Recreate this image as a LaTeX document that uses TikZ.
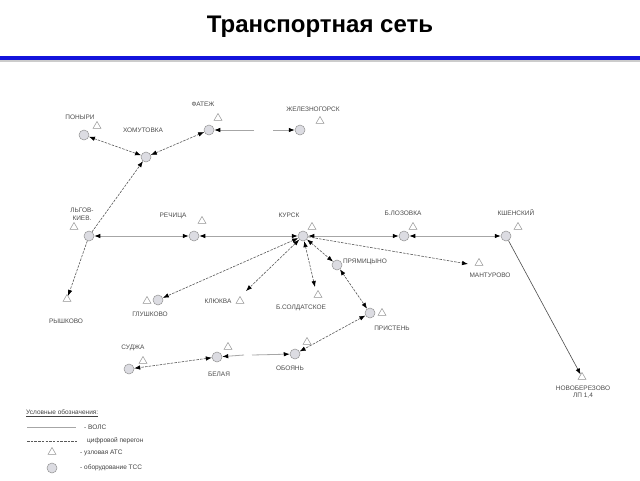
\documentclass[tikz,border=0pt]{standalone}
\usepackage{fontspec}
\setmainfont{Liberation Sans}
\usetikzlibrary{arrows.meta,shapes.geometric}
\definecolor{rule}{RGB}{20,20,220}
\definecolor{stfill}{RGB}{220,220,226}
\begin{document}
\begin{tikzpicture}[x=1pt,y=-1pt,
 stn/.style={circle,draw=gray!85,fill=stfill,line width=0.5pt,minimum size=10pt,inner sep=0pt},
 tri/.style={regular polygon,regular polygon sides=3,draw=gray!85,line width=0.5pt,minimum size=9pt,inner sep=0pt},
 lbl/.style={font=\fontsize{6.5}{7.5}\selectfont,text=black!70,inner sep=0pt,align=center},
 leg/.style={font=\fontsize{6.5}{7.5}\selectfont,text=black!75,inner sep=0pt,anchor=west},
 sol/.style={draw=gray!70,line width=0.8pt},
 dsh/.style={draw=black!65,line width=0.6pt,dash pattern=on 2.5pt off 1.2pt},
 dark/.style={draw=black!70,line width=0.6pt},
 tip/.style={-{Latex[length=6pt,width=4.5pt,color=black]}},
 tips/.style={{Latex[length=6pt,width=4.5pt,color=black]}-{Latex[length=6pt,width=4.5pt,color=black]}}
]
\useasboundingbox (0,0) rectangle (640,480);
\fill[white] (0,0) rectangle (640,480);
% title and rule
\node[font=\fontsize{24}{28}\selectfont\bfseries,inner sep=0pt] (title) at (320,27) {Транспортная сеть};
\draw[gray!40,line width=1.5pt] (0,61) -- (640,61);
\draw[rule,line width=3.5pt] (0,58) -- (640,58);

% circles (stations)
\node[stn] (pon) at (84,135) {};
\node[stn] (hom) at (146,157) {};
\node[stn] (fat) at (209,130) {};
\node[stn] (zhel) at (300,130) {};
\node[stn] (lgov) at (89,236) {};
\node[stn] (rech) at (194,236) {};
\node[stn] (kursk) at (303,236) {};
\node[stn] (loz) at (404,236) {};
\node[stn] (kshen) at (506,236) {};
\node[stn] (glush) at (158,300) {};
\node[stn] (pryam) at (337,265) {};
\node[stn] (prist) at (370,313) {};
\node[stn] (oboyan) at (295,354) {};
\node[stn] (belaya) at (217,357) {};
\node[stn] (sudzha) at (129,369) {};

% triangles
\node[tri] (tpon) at (97,126) {};
\node[tri] (tfat) at (218,118) {};
\node[tri] (tzhel) at (320,121) {};
\node[tri] (tlgov) at (74,227) {};
\node[tri] (trech) at (202,221) {};
\node[tri] (tkursk) at (312,227) {};
\node[tri] (tloz) at (413,227) {};
\node[tri] (tkshen) at (518,227) {};
\node[tri] (trysh) at (67,299) {};
\node[tri] (tglush) at (147,301) {};
\node[tri] (tkluk) at (240,301) {};
\node[tri] (tsold) at (318,295) {};
\node[tri] (tprist) at (382,313) {};
\node[tri] (tmant) at (479,263) {};
\node[tri] (toboyan) at (307,342) {};
\node[tri] (tbelaya) at (228,347) {};
\node[tri] (tsudzha) at (143,361) {};
\node[tri] (tnovob) at (582,377) {};

% labels
\node[lbl] (lpon) at (80,117) {ПОНЫРИ};
\node[lbl] (lhom) at (143,130) {ХОМУТОВКА};
\node[lbl] (lfat) at (203,104) {ФАТЕЖ};
\node[lbl] (lzhel) at (313,109) {ЖЕЛЕЗНОГОРСК};
\node[lbl] (llgov) at (82,214) {ЛЬГОВ-\\КИЕВ.};
\node[lbl] (lrech) at (173,216) {РЕЧИЦА};
\node[lbl] (lkursk) at (289,215) {КУРСК};
\node[lbl] (lloz) at (403,213) {Б.ЛОЗОВКА};
\node[lbl] (lkshen) at (516,213) {КШЕНСКИЙ};
\node[lbl] (lrysh) at (66,321) {РЫШКОВО};
\node[lbl] (lglush) at (150,314) {ГЛУШКОВО};
\node[lbl] (lkluk) at (218,301) {КЛЮКВА};
\node[lbl] (lsold) at (301,308) {Б.СОЛДАТСКОЕ};
\node[lbl] (lpryam) at (365,262) {ПРЯМИЦЫНО};
\node[lbl] (lprist) at (392,328) {ПРИСТЕНЬ};
\node[lbl] (lmant) at (490,275) {МАНТУРОВО};
\node[lbl] (loboyan) at (290,368) {ОБОЯНЬ};
\node[lbl] (lbelaya) at (219,374) {БЕЛАЯ};
\node[lbl] (lsudzha) at (133,348) {СУДЖА};
\node[lbl] (lnovob) at (583,392) {НОВОБЕРЕЗОВО\\ЛП 1,4};

% free ends
\coordinate (fA) at (254,130);
\coordinate (fB) at (273,130);
\coordinate (bA) at (244,355);
\coordinate (bB) at (252,355);
\coordinate (ekluk) at (246,291);
\coordinate (esold) at (315,287);
\coordinate (emant) at (468,264);

% connectors
\draw[dsh,tips] (pon) -- (hom);
\draw[dsh,tips] (hom) -- (fat);
\draw[sol,tip] (fA) -- (fat);
\draw[sol,tip] (fB) -- (zhel);
\draw[dsh,tip] (lgov) -- (hom);
\draw[dsh,tip] (lgov) -- (trysh);
\draw[sol,tips] (lgov) -- (rech);
\draw[sol,tips] (rech) -- (kursk);
\draw[sol,tips] (kursk) -- (loz);
\draw[sol,tips] (loz) -- (kshen);
\draw[dark,tip] (kshen) -- (tnovob);
\draw[dsh,tips] (kursk) -- (glush);
\draw[dsh,tips] (kursk) -- (ekluk);
\draw[dsh,tips] (kursk) -- (esold);
\draw[dsh,tips] (kursk) -- (pryam);
\draw[dsh,tip] (kursk) -- (emant);
\draw[dsh,tips] (pryam) -- (prist);
\draw[dsh,tips] (prist) -- (oboyan);
\draw[sol,tip] (bA) -- (belaya);
\draw[sol,tip] (bB) -- (oboyan);
\draw[dsh,tips] (belaya) -- (sudzha);

% legend
\node[leg] (legt) at (26,413) {\underline{Условные обозначения:}};
\coordinate (l1a) at (27,427); \coordinate (l1b) at (76,427);
\draw[sol] (l1a) -- (l1b);
\node[leg] (leg1) at (84,427) {- ВОЛС};
\coordinate (l2a) at (27,441); \coordinate (l2b) at (77,441);
\draw[dsh] (l2a) -- (l2b);
\node[leg] (leg2) at (87,441) {цифровой перегон};
\node[tri] (legtri) at (52,452) {};
\node[leg] (leg3) at (80,453) {- узловая АТС};
\node[stn] (legcirc) at (52,468) {};
\node[leg] (leg4) at (80,468) {- оборудование ТСС};
\end{tikzpicture}
\end{document}
